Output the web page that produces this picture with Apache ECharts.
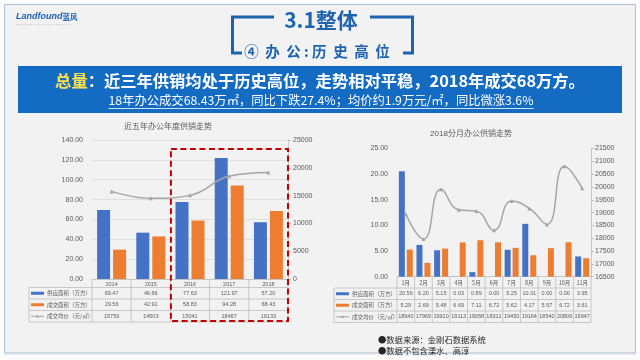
<!DOCTYPE html>
<html><head><meta charset="utf-8">
<script src="https://cdn.jsdelivr.net/npm/echarts@6/dist/echarts.min.js"></script>
<style>html,body{margin:0;padding:0;background:#fff;}#c{width:640px;height:360px;}</style>
</head><body><div id="c"></div>
<script>
// ---- data ----
const yearCats = ['2014', '2015', '2016', '2017', '2018'];
const yearSupply = [69.47, 46.66, 77.63, 121.97, 57.20];
const yearDeal = [29.56, 42.91, 58.83, 94.28, 68.43];
const yearPrice = [15759, 14503, 15041, 18467, 19133];

const monthCats = ['1月', '2月', '3月', '4月', '5月', '6月', '7月', '8月', '9月', '10月', '11月'];
const monthSupply = [20.56, 6.20, 5.15, 0.03, 0.89, 0.00, 5.25, 10.31, 0.00, 0.00, 3.95];
const monthDeal = [5.29, 2.69, 5.48, 6.69, 7.11, 6.72, 5.62, 4.17, 5.57, 6.72, 3.61];
const monthPrice = [18940, 17969, 19910, 19113, 19058, 18312, 19450, 19164, 18540, 20806, 19947];

const seriesNames = ['供应面积（万方）', '成交面积（万方）', '成交均价（元/㎡）'];
const leftChartTitle = '近五年办公年度供销走势';
const rightChartTitle = '2018分月办公供销走势';
const pageTitle = '3.1整体';
const pageSubtitle = '④  办  公 : 历  史  高  位';
const bannerKey = '总量';
const bannerLine1 = '：近三年供销均处于历史高位，走势相对平稳，2018年成交68万方。';
const bannerLine2 = '18年办公成交68.43万㎡，同比下跌27.4%；均价约1.9万元/㎡，同比微涨3.6%';
const notes = ['●数据来源：金刚石数据系统', '●数据不包含溧水、高淳'];

// ---- style ----
const FONT = '"Liberation Sans", "Noto Sans CJK SC", sans-serif';
const CJK = '"Noto Sans CJK SC", "Liberation Sans", sans-serif';
const BLUE = '#4472c4', ORANGE = '#ed7d31', GREY = '#a5a5a5';
const TXT = '#595959', GRID = '#d9d9d9', TABLE = '#bcbcbc';
const TITLEBLUE = '#1e63b0', BANNER = '#146cc2';

const chart = echarts.init(document.getElementById('c'), null, {renderer: 'canvas'});

const axisLbl = {fontSize: 7, color: TXT, fontFamily: FONT};
const plain = v => String(v);
chart.setOption({
  animation: false,
  backgroundColor: '#f2f2f2',
  grid: [
    {left: 92, top: 140, width: 196, height: 139},
    {left: 397, top: 148.5, width: 194, height: 128.2}
  ],
  xAxis: [
    {type: 'category', gridIndex: 0, data: yearCats,
     axisLine: {lineStyle: {color: TABLE, width: 0.8}}, axisTick: {show: false},
     axisLabel: {fontSize: 5.5, color: TXT, fontFamily: FONT, margin: 2.5}},
    {type: 'category', gridIndex: 1, data: monthCats,
     axisLine: {lineStyle: {color: TABLE, width: 0.8}}, axisTick: {show: false},
     axisLabel: {fontSize: 5.5, color: TXT, fontFamily: CJK, margin: 3, interval: 0}}
  ],
  yAxis: [
    {type: 'value', gridIndex: 0, min: 0, max: 140, interval: 20,
     axisLine: {show: false}, axisTick: {show: false},
     axisLabel: Object.assign({margin: 9, formatter: v => v.toFixed(2)}, axisLbl),
     splitLine: {lineStyle: {color: GRID, width: 0.8}}},
    {type: 'value', gridIndex: 0, position: 'right', min: 0, max: 25000, interval: 5000,
     axisLine: {show: true, lineStyle: {color: TABLE, width: 0.8}},
     axisTick: {show: true, length: 3, lineStyle: {color: TABLE}},
     axisLabel: Object.assign({margin: 5, formatter: plain}, axisLbl), splitLine: {show: false}},
    {type: 'value', gridIndex: 1, min: 0, max: 25, interval: 5,
     axisLine: {show: false}, axisTick: {show: false},
     axisLabel: Object.assign({margin: 9, formatter: v => v.toFixed(2)}, axisLbl),
     splitLine: {show: false}},
    {type: 'value', gridIndex: 1, position: 'right', min: 16500, max: 21500, interval: 500,
     axisLine: {show: true, lineStyle: {color: TABLE, width: 0.8}},
     axisTick: {show: true, length: 3, lineStyle: {color: TABLE}},
     axisLabel: Object.assign({margin: 4, formatter: plain}, axisLbl), splitLine: {show: false}}
  ],
  series: [
    {type: 'bar', name: seriesNames[0], xAxisIndex: 0, yAxisIndex: 0, data: yearSupply,
     barWidth: 13, barGap: '23%', itemStyle: {color: BLUE}},
    {type: 'bar', name: seriesNames[1], xAxisIndex: 0, yAxisIndex: 0, data: yearDeal,
     barWidth: 13, barGap: '23%', itemStyle: {color: ORANGE}},
    {type: 'line', name: seriesNames[2], xAxisIndex: 0, yAxisIndex: 1, data: yearPrice,
     smooth: 0.45, symbol: 'triangle', symbolSize: 4, showSymbol: true,
     lineStyle: {color: GREY, width: 1.5}, itemStyle: {color: GREY}},
    {type: 'bar', name: seriesNames[0], xAxisIndex: 1, yAxisIndex: 2, data: monthSupply,
     barWidth: 6, barGap: '33%', itemStyle: {color: BLUE}},
    {type: 'bar', name: seriesNames[1], xAxisIndex: 1, yAxisIndex: 2, data: monthDeal,
     barWidth: 6, barGap: '33%', itemStyle: {color: ORANGE}},
    {type: 'line', name: seriesNames[2], xAxisIndex: 1, yAxisIndex: 3, data: monthPrice,
     smooth: 0.5, symbol: 'triangle', symbolSize: 4, showSymbol: true,
     lineStyle: {color: GREY, width: 1.5}, itemStyle: {color: GREY}}
  ]
});

// ---- graphics (frame, header, banner, tables, notes) ----
const g = [];
function txt(x, y, text, o) {
  o = o || {};
  const st = Object.assign({text: text, fontSize: 7, fontFamily: CJK, fill: TXT,
    align: 'center', verticalAlign: 'middle', textAlign: 'center', textVerticalAlign: 'middle'}, o);
  if (o.align) st.textAlign = o.align;
  g.push({type: 'text', x: x, y: y, z: 10, style: st});
}
function line(x1, y1, x2, y2, stroke, w, extra) {
  g.push({type: 'line', z: 9, shape: {x1, y1, x2, y2},
    style: Object.assign({stroke: stroke, lineWidth: w}, extra || {})});
}
// slide frame
g.push({type: 'rect', z: -5, shape: {x: 0, y: 0, width: 640, height: 360},
  style: {fill: 'none', stroke: '#fbfbfb', lineWidth: 9}});
g.push({type: 'rect', z: -4, shape: {x: 4.5, y: 4.5, width: 631, height: 348.5},
  style: {fill: 'none', stroke: '#a9bfd4', lineWidth: 1}});
// logo
g.push({type: 'text', x: 16, y: 17, z: 10, style: {
  text: '{a|Landfound}{b|蓝风}', verticalAlign: 'middle', textVerticalAlign: 'middle',
  rich: {a: {fontSize: 9, fontStyle: 'italic', fontWeight: 'bold', fontFamily: FONT, fill: TITLEBLUE, color: TITLEBLUE},
         b: {fontSize: 7.5, fontWeight: 'bold', fontFamily: CJK, fill: TITLEBLUE, color: TITLEBLUE}}}});
line(16, 24.5, 70, 24.5, '#9aaabb', 0.6, {lineDash: [1, 1.5]});
// title brackets
g.push({type: 'polyline', z: 9, shape: {points: [[242, 53], [232.5, 53], [232.5, 17], [274, 17]]},
  style: {stroke: TITLEBLUE, lineWidth: 3, fill: 'none'}});
g.push({type: 'polyline', z: 9, shape: {points: [[370, 17], [412.5, 17], [412.5, 53], [403, 53]]},
  style: {stroke: TITLEBLUE, lineWidth: 3, fill: 'none'}});
txt(321, 20.5, pageTitle, {fontSize: 21, fontWeight: 'bold', fill: TITLEBLUE});
txt(317, 51.5, pageSubtitle, {fontSize: 14.5, fontWeight: 'bold', fill: TITLEBLUE});
// banner
g.push({type: 'rect', z: 8, shape: {x: 18, y: 66, width: 604, height: 47}, style: {fill: BANNER}});
g.push({type: 'text', x: 320, y: 81, z: 10, style: {
  text: '{y|' + bannerKey + '}{w|' + bannerLine1 + '}',
  align: 'center', verticalAlign: 'middle', textAlign: 'center', textVerticalAlign: 'middle',
  rich: {y: {fontSize: 16.3, fontWeight: 'bold', fontFamily: CJK, fill: '#ffe14d', color: '#ffe14d'},
         w: {fontSize: 16.3, fontWeight: 'bold', fontFamily: CJK, fill: '#ffffff', color: '#ffffff'}}}});
const L2SIZE = 12.3;
txt(321, 100.5, bannerLine2, {fontSize: L2SIZE, fill: '#ffffff', fontFamily: CJK});
(function () {
  const ctx = document.createElement('canvas').getContext('2d');
  ctx.font = L2SIZE + 'px ' + CJK;
  const w = ctx.measureText(bannerLine2).width;
  line(321 - w / 2, 108.5, 321 + w / 2, 108.5, '#ffffff', 0.8);
})();
// chart titles
txt(168, 126, leftChartTitle, {fontSize: 8, fill: TXT});
txt(471, 134, rightChartTitle, {fontSize: 8, fill: TXT, fontFamily: FONT});

// data tables
function table(xIdx, cats, rows, legendLeft, headTop, rowEdges, fmts) {
  const c0 = chart.convertToPixel({xAxisIndex: xIdx}, cats[0]);
  const c1 = chart.convertToPixel({xAxisIndex: xIdx}, cats[1]);
  const cw = c1 - c0;
  const left = c0 - cw / 2, right = left + cw * cats.length;
  rowEdges.forEach(y => line(legendLeft, y, right, y, TABLE, 0.8));
  const bottom = rowEdges[rowEdges.length - 1];
  line(legendLeft, rowEdges[0], legendLeft, bottom, TABLE, 0.8);
  for (let i = 0; i <= cats.length; i++) line(left + i * cw, headTop, left + i * cw, bottom, TABLE, 0.8);
  rows.forEach((vals, r) => {
    const yc = (rowEdges[r] + rowEdges[r + 1]) / 2;
    vals.forEach((v, i) => txt(left + cw * (i + 0.5), yc, fmts[r](v), {fontSize: 5.5, fontFamily: FONT}));
    const kx = legendLeft + 2;
    if (r < 2) {
      g.push({type: 'rect', z: 10, shape: {x: kx, y: yc - 1.5, width: 13, height: 3},
        style: {fill: r === 0 ? BLUE : ORANGE}});
    } else {
      line(kx, yc, kx + 13, yc, GREY, 1);
      g.push({type: 'polygon', z: 10, shape: {points: [[kx + 6.5, yc - 1.6], [kx + 8.2, yc + 1.2], [kx + 4.8, yc + 1.2]]},
        style: {fill: GREY}});
    }
    txt(kx + 16, yc, seriesNames[r], {fontSize: 5.5, align: 'left'});
  });
  return {left, right, cw};
}
const f2 = v => v.toFixed(2), f0 = v => String(v);
const tL = table(0, yearCats, [yearSupply, yearDeal, yearPrice], 29, 279, [287.5, 299, 310.5, 322], [f2, f2, f0]);
table(1, monthCats, [monthSupply, monthDeal, monthPrice], 334, 276.7, [288, 299.5, 311, 322.5], [f2, f2, f0]);

// red dashed highlight around 2016-2018
const hx = tL.left + tL.cw * 2;
g.push({type: 'rect', z: 11, shape: {x: hx + 0.5, y: 149, width: tL.right - hx - 0.5, height: 172},
  style: {fill: 'none', stroke: '#c00000', lineWidth: 2, lineDash: [6, 3.5]}});

// notes
txt(378, 340, notes[0], {fontSize: 8.3, fill: '#262626', align: 'left'});
txt(378, 351, notes[1], {fontSize: 8.3, fill: '#262626', align: 'left'});

chart.setOption({graphic: {elements: g}});
</script>
</body></html>
